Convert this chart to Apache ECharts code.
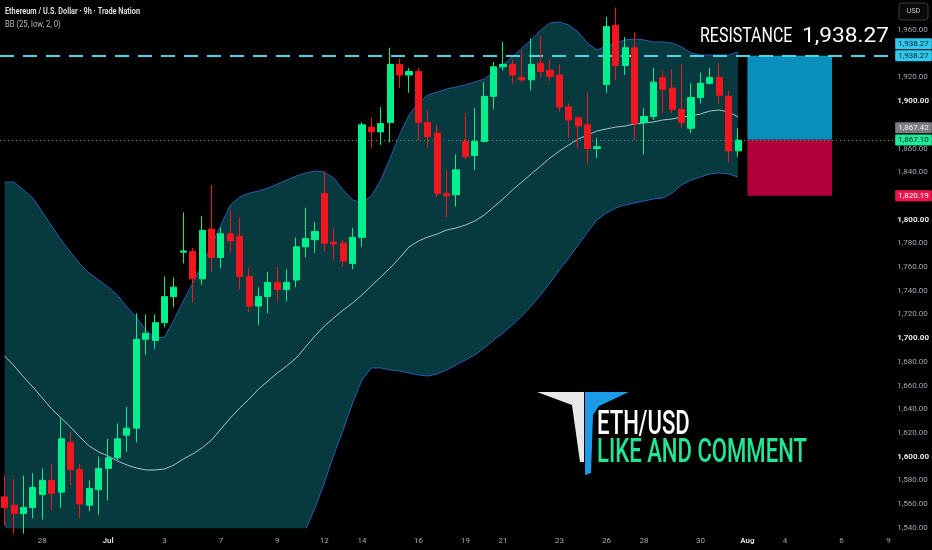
<!DOCTYPE html>
<html>
<head>
<meta charset="utf-8">
<title>ETH/USD 9h</title>
<script src="https://cdn.jsdelivr.net/npm/echarts@6/dist/echarts.min.js"></script>
<style>
  html, body { margin: 0; padding: 0; background: #000; }
  #chart { width: 932px; height: 550px; }
</style>
</head>
<body>
<div id="chart"></div>
<script>
// 9h candles (oldest first)
const opens  = [1566,1559,1552,1557,1568,1580,1570,1612,1589,1559,1572,1590,1599,1618,1624,1699,1698,1713,1735,1772.5,
                1773,1750,1792,1768,1788,1786,1752,1727,1735,1747,1741,1749,1777,1783,1822,1781,1780,1763,1785,1878,
                1874,1882,1931,1922,1925,1882,1873,1822,1821,1866,1854,1866,1904,1929,1931,1920,1918,1932,1926,1922,
                1895,1886,1880,1860,1914,1964,1930,1945,1882,1887,1920,1911,1893,1877,1903,1915,1920,1904,1858];
const closes = [1557,1552,1557,1574,1580,1569,1615,1589,1560,1573,1590,1599,1615,1624,1699,1704,1713,1735,1743,1773.5,
                1750,1791,1768,1788,1782,1752,1727,1735,1747,1741,1747,1777,1784,1790,1780,1779.5,1765,1785,1880,1874,
                1881,1931,1922,1925,1882,1870,1822,1820,1842,1853,1866,1904,1929,1931,1922,1918,1931,1925,1921,1895,
                1884,1879,1860,1861.5,1963,1930,1945,1881,1887,1916,1910,1893,1882,1903,1915,1920,1905,1858,1867.1];
const lows   = [1542,1535,1535,1548,1547,1555,1557,1576,1548,1554,1551,1563,1597,1604,1612,1686,1691,1709,1726,1763,
                1730,1745,1756,1759,1772,1741,1722,1711,1721,1731,1731,1743,1768,1772,1773,1766,1760,1758,1777,1860,
                1863,1865,1911,1907,1867,1861,1819,1802,1811,1851,1842,1865,1893,1926,1915,1916,1909,1920,1917,1891,
                1869,1860,1847,1852,1907,1918,1922,1867,1855,1884,1890,1890,1877,1873,1898,1914,1898,1848,1853];
const highs  = [1584,1581,1584,1586,1590,1594,1633,1621,1594,1580,1600,1615,1628,1642,1721,1720,1720,1752,1751,1806,
                1776,1803,1829,1793,1808,1802,1759,1743,1756,1760,1758,1785,1810,1798,1840,1793,1783,1793,1882,1886,
                1895,1945,1936,1928,1928,1893,1880,1842,1855,1890,1894,1916,1933,1950,1935,1943,1953,1955,1935,1931,
                1898,1887,1907,1869,1971,1979,1954,1958,1894,1928,1926,1927,1931,1915,1924,1928,1932,1909,1877];

// Bollinger bands (25, low, 2, 0)
const bbUpper = [1831.7,1831.7,1825.0,1818.2,1806.4,1794.6,1782.8,1772.7,1762.5,1754.9,1749.0,1743.1,1736.4,1726.2,1717.8,1706.8,1700.1,1700.9,1715.3,1731.3,
                 1746.5,1761.7,1778.6,1795.4,1812.3,1819.1,1822.4,1824.1,1826.6,1830.0,1833.4,1836.8,1839.3,1841.0,1840.2,1835.1,1825.0,1816.5,1814.0,1819.9,
                 1833.4,1852.0,1871.4,1888.3,1898.4,1905.1,1907.7,1910.2,1911.9,1913.6,1916.1,1918.6,1924.6,1930.5,1937.2,1944.8,1951.6,1960.0,1965.9,1966.8,
                 1964.2,1958.3,1949.0,1943.1,1946.5,1949.0,1951.6,1952.4,1951.6,1949.9,1949.9,1949.0,1945.7,1940.6,1938.9,1938.9,1938.9,1938.9,1941.4];
const bbBasis = [1684.9,1676.5,1667.2,1658.7,1649.5,1640.2,1632.6,1625.0,1616.5,1608.9,1603.9,1600.5,1596.3,1592.9,1590.4,1588.7,1588.7,1589.5,1592.9,1598.0,
                 1602.2,1607.3,1614.0,1623.3,1632.6,1641.0,1648.6,1657.0,1663.8,1670.5,1676.5,1683.2,1692.5,1701.8,1710.2,1717.0,1723.7,1729.6,1736.4,1744.0,
                 1751.6,1759.2,1767.6,1776.9,1781.9,1785.3,1787.8,1791.2,1792.9,1795.4,1798.8,1803.9,1810.6,1817.4,1825.0,1831.7,1838.5,1845.2,1852.0,1857.9,
                 1863.0,1868.0,1871.4,1874.8,1876.5,1878.1,1879.0,1880.7,1881.5,1882.4,1884.1,1884.9,1886.6,1887.4,1889.1,1891.6,1892.5,1890.8,1886.6];
const bbLower = [1544.8,1521.2,1509.4,1499.2,1492.5,1485.7,1482.4,1477.3,1470.5,1463.0,1458.7,1457.9,1456.2,1459.6,1463.0,1470.5,1477.3,1478.1,1470.5,1464.6,
                 1457.9,1452.8,1449.5,1451.1,1452.8,1463.0,1474.8,1490.0,1500.9,1511.1,1519.5,1529.6,1538.1,1556.6,1577.7,1601.4,1622.4,1645.2,1664.6,1674.8,
                 1674.8,1673.1,1672.2,1670.5,1668.9,1668.0,1669.7,1673.1,1677.3,1681.5,1685.7,1691.6,1698.4,1704.3,1711.1,1718.7,1727.1,1736.4,1746.5,1757.5,
                 1767.6,1778.6,1789.5,1799.7,1805.6,1809.8,1812.3,1814.0,1815.7,1817.4,1818.2,1822.4,1829.2,1833.4,1835.9,1838.5,1839.3,1838.5,1835.9];

// time axis: bar slots incl. empty future space, and where the date ticks sit
const totalSlots = 95;
const tickIdx  = [4, 11, 17, 23, 29, 34, 38, 44, 49, 53, 59, 64, 68, 74, 79, 83, 89, 94];
const tickText = ['28','Jul','3','7','9','12','14','16','19','21','23','26','28','30','Aug','4','6','9'];

// price levels of the long position drawing
const resistance = 1938.27;
const entry = 1867.42;
const lastPrice = 1867.10;
const stopLoss = 1820.19;
const boxFrom = 79, boxTo = 88;

const UP = '#00f08e', DOWN = '#f2161e';
const NOLINE = { color: 'rgba(0,0,0,0)', width: 1 };

const fmt = (v) => v.toLocaleString('en-US', { minimumFractionDigits: 2, maximumFractionDigits: 2 });

const cats = [];
for (let i = 0; i < totalSlots; i++) cats.push(String(i));
const candles = opens.map((o, i) => [o, closes[i], lows[i], highs[i]]);
const bandSpan = bbUpper.map((u, i) => +(u - bbLower[i]).toFixed(2));
const hiddenTicks = [1980, 1940, 1880, 1820];

function priceTag(text, bg, fg, dy) {
  return {
    show: true, position: 'end', distance: 2, formatter: text,
    fontSize: 8, fontFamily: 'Roboto', color: fg, backgroundColor: bg,
    padding: [2, 3, 1, 3], borderRadius: 1, offset: [0, dy || 0]
  };
}

const chart = echarts.init(document.getElementById('chart'));
chart.setOption({
  backgroundColor: '#000',
  animation: false,
  grid: { left: 0, right: 32, top: 6.3, bottom: 22.3 },
  xAxis: {
    type: 'category', data: cats, boundaryGap: true,
    axisLine: { show: false }, axisTick: { show: false }, splitLine: { show: false },
    axisLabel: {
      interval: 0, margin: 9, fontSize: 8, fontFamily: 'Roboto', color: '#a3a6af',
      formatter: (v) => {
        const k = tickIdx.indexOf(+v);
        if (k < 0) return '';
        return /[A-Za-z]/.test(tickText[k]) ? '{m|' + tickText[k] + '}' : tickText[k];
      },
      rich: { m: { fontSize: 8, fontWeight: 'bold', color: '#d8d8d8', fontFamily: 'Roboto' } }
    }
  },
  yAxis: {
    type: 'value', position: 'right', min: 1540, max: 1980, interval: 20,
    axisLine: { show: false }, axisTick: { show: false }, splitLine: { show: false },
    axisLabel: {
      margin: 4, fontSize: 8, fontFamily: 'Roboto', color: '#a3a6af',
      formatter: (v) => {
        if (hiddenTicks.indexOf(v) >= 0) return '';
        return v % 100 === 0 ? '{b|' + fmt(v) + '}' : fmt(v);
      },
      rich: { b: { fontSize: 8, fontWeight: 'bold', color: '#e6e6e6', fontFamily: 'Roboto' } }
    }
  },
  series: [
    {
      name: 'BB lower', type: 'line', data: bbLower, stack: 'bb', symbol: 'none',
      lineStyle: { color: '#2c5bb0', width: 1 }, z: 1, silent: true
    },
    {
      name: 'BB upper', type: 'line', data: bandSpan, stack: 'bb', symbol: 'none',
      lineStyle: { color: '#2c5bb0', width: 1 },
      areaStyle: { color: '#073a3f', opacity: 1 }, z: 1, silent: true
    },
    {
      name: 'BB basis', type: 'line', data: bbBasis, symbol: 'none',
      lineStyle: { color: '#a7c4c6', width: 1 }, z: 2, silent: true
    },
    {
      name: 'ETHUSD', type: 'candlestick', data: candles, barWidth: '70%', z: 5,
      itemStyle: { color: UP, color0: DOWN, borderColor: UP, borderColor0: DOWN, borderWidth: 1 },
      markArea: {
        silent: true,
        data: [
          [{ xAxis: String(boxFrom), yAxis: entry, itemStyle: { color: '#0a90bd' } }, { xAxis: String(boxTo), yAxis: resistance }],
          [{ xAxis: String(boxFrom), yAxis: stopLoss, itemStyle: { color: '#b1003b' } }, { xAxis: String(boxTo), yAxis: entry }]
        ]
      },
      markLine: {
        silent: true, symbol: ['none', 'none'], animation: false,
        data: [
          { yAxis: resistance, lineStyle: { color: '#4dd3e6', type: [14, 9], width: 2 },
            label: priceTag(fmt(resistance), '#2fc8ee', '#06222a', 0) },
          { yAxis: resistance + 0.001, lineStyle: NOLINE,
            label: priceTag(fmt(resistance), '#2fc8ee', '#06222a', -12) },
          { yAxis: lastPrice, lineStyle: { color: '#1fae7e', type: [1, 3], width: 1 },
            label: priceTag(fmt(lastPrice), '#1eea98', '#05251a', 0) },
          { yAxis: entry, lineStyle: NOLINE,
            label: priceTag(fmt(entry), '#7b7d80', '#f0f0f0', -12) },
          { yAxis: stopLoss, lineStyle: NOLINE,
            label: priceTag(fmt(stopLoss), '#f2154c', '#ffffff', 0) }
        ]
      }
    }
  ],
  graphic: [
    { type: 'text', x: 5, y: 12, scaleX: 0.86, z: 10,
      style: { text: 'Ethereum / U.S. Dollar · 9h · Trade Nation', font: 'bold 8.5px Roboto', fill: '#dcdcdc', verticalAlign: 'middle' } },
    { type: 'text', x: 5, y: 25, scaleX: 0.9, z: 10,
      style: { text: 'BB (25, low, 2, 0)', font: '8.5px Roboto', fill: '#b8b8b8', verticalAlign: 'middle' } },
    { type: 'rect', shape: { x: 899, y: 3, width: 29, height: 17, r: 3 }, z: 10,
      style: { fill: '#0a0a0a', stroke: '#3a3a3a', lineWidth: 1 } },
    { type: 'text', x: 913.5, y: 11.5, z: 11,
      style: { text: 'USD', font: '7px Roboto', fill: '#c8c8c8', align: 'center', verticalAlign: 'middle' } },
    { type: 'text', x: 700, y: 37, scaleX: 0.76, z: 10,
      style: { text: 'RESISTANCE', font: '21px Roboto', fill: '#ffffff', verticalAlign: 'middle' } },
    { type: 'text', x: 802, y: 37, scaleX: 1.08, z: 10,
      style: { text: '1,938.27', font: '21px Roboto', fill: '#ffffff', verticalAlign: 'middle' } },
    { type: 'polygon', z: 10,
      shape: { points: [[537, 392], [584, 392], [584, 462], [580, 462], [572, 405]] },
      style: { fill: '#e8e8e8' } },
    { type: 'polygon', z: 10,
      shape: { points: [[585, 392], [629, 392], [599, 406], [593, 415], [591, 473], [585, 475]] },
      style: { fill: '#1d9be6' } },
    { type: 'text', x: 597, y: 425, scaleX: 0.65, z: 10,
      style: { text: 'ETH/USD', font: '500 34px Roboto', fill: '#ffffff', verticalAlign: 'middle' } },
    { type: 'text', x: 597, y: 453, scaleX: 0.65, z: 10,
      style: { text: 'LIKE AND COMMENT', font: '500 34px Roboto', fill: '#22e596', verticalAlign: 'middle' } }
  ]
});
</script>
</body>
</html>
